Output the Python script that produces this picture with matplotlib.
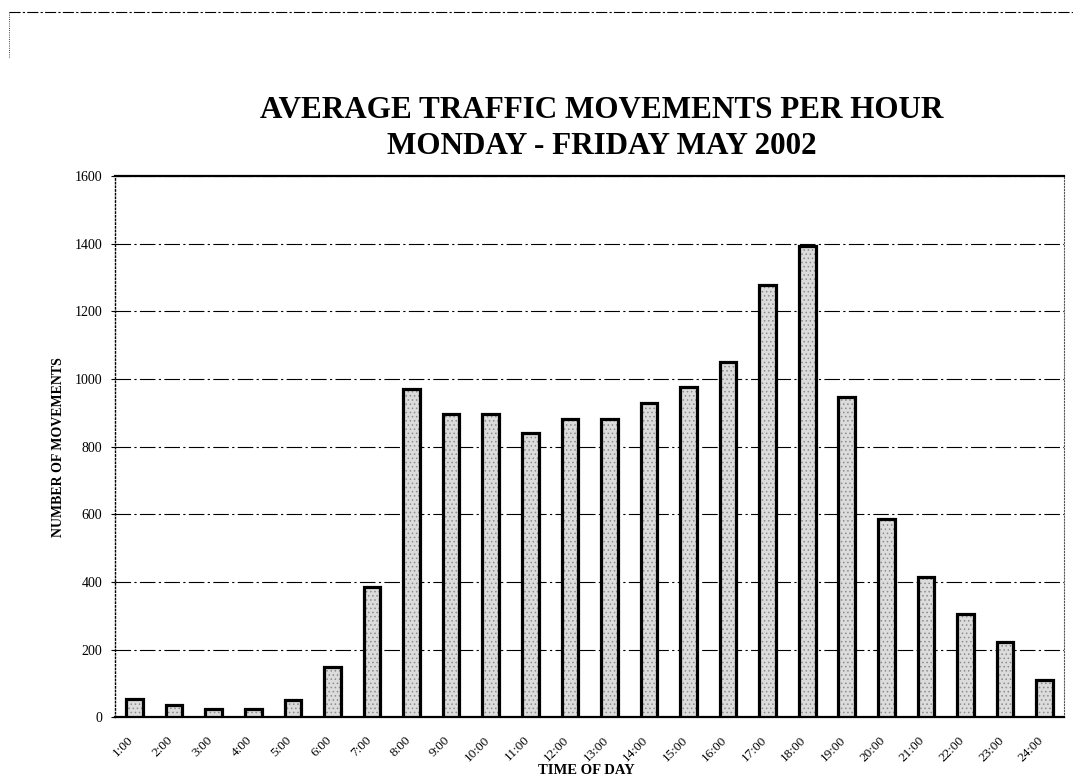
import matplotlib
matplotlib.use("Agg")
import matplotlib.pyplot as plt
import matplotlib.transforms as mtransforms
from matplotlib.lines import Line2D

hours = ["1:00", "2:00", "3:00", "4:00", "5:00", "6:00", "7:00", "8:00",
         "9:00", "10:00", "11:00", "12:00", "13:00", "14:00", "15:00", "16:00",
         "17:00", "18:00", "19:00", "20:00", "21:00", "22:00", "23:00", "24:00"]
movements = [55, 35, 26, 24, 50, 150, 385, 970,
             895, 895, 840, 882, 882, 930, 976, 1050,
             1278, 1393, 947, 586, 414, 305, 222, 110]
y_ticks = [0, 200, 400, 600, 800, 1000, 1200, 1400, 1600]

plt.rcParams['font.family'] = ['Liberation Serif', 'DejaVu Serif']
plt.rcParams['hatch.color'] = '#8c8c8c'
plt.rcParams['hatch.linewidth'] = 0.6

fig = plt.figure(figsize=(10.73, 7.78), dpi=100)
ax = fig.add_axes([0.107, 0.078, 0.885, 0.696])

x = list(range(len(hours)))
# stippled grey fill, then a heavy black outline on top
ax.bar(x, movements, width=0.42, color="#dcdcdc", edgecolor="#8c8c8c",
       linewidth=0, hatch="....", zorder=3)
ax.bar(x, movements, width=0.42, fill=False, edgecolor="black",
       linewidth=2.3, zorder=4)

ax.set_xlim(-0.5, len(hours) - 0.5)
ax.set_ylim(0, 1600)
ax.set_yticks(y_ticks)
ax.set_yticklabels([str(v) for v in y_ticks], fontsize=10)
ax.set_xticks(x)
ax.set_xticklabels(hours, rotation=45, ha="right", rotation_mode="anchor",
                   fontsize=9.5)
ax.tick_params(axis="x", length=0, pad=12)
ax.tick_params(axis="y", length=3, width=0.8, pad=6)

shift = mtransforms.ScaledTranslation(-0.07, 0, fig.dpi_scale_trans)
for lbl in ax.get_xticklabels():
    lbl.set_transform(lbl.get_transform() + shift)

ax.yaxis.grid(True, color="black", linestyle=(0, (14, 3, 2, 3)),
              linewidth=0.8, zorder=0)
ax.set_axisbelow(True)

ax.spines["top"].set_linewidth(1.6)
ax.spines["bottom"].set_linewidth(1.6)
ax.spines["left"].set_linestyle(":")
ax.spines["left"].set_linewidth(1.0)
ax.spines["right"].set_linestyle(":")
ax.spines["right"].set_linewidth(0.8)
ax.spines["right"].set_color("#555555")

ax.set_ylabel("NUMBER OF MOVEMENTS", fontsize=10, fontweight="bold")
ax.yaxis.set_label_coords(-0.052, 0.5)
ax.set_xlabel("TIME OF DAY", fontsize=10.5, fontweight="bold", va="center")
ax.xaxis.set_label_coords(0.496, -0.098)

fig.text(0.561, 0.835, "AVERAGE TRAFFIC MOVEMENTS PER HOUR\nMONDAY - FRIDAY MAY 2002",
         ha="center", va="center", fontsize=22.4, fontweight="bold",
         linespacing=1.3)

# page frame fragments
fig.add_artist(Line2D([0.008, 1.0], [0.985, 0.985], color="black",
                      linewidth=0.8, linestyle=(0, (10, 2, 2, 2))))
fig.add_artist(Line2D([0.008, 0.008], [0.985, 0.925], color="black",
                      linewidth=0.6, linestyle=":"))

fig.savefig("out.png", dpi=100)
